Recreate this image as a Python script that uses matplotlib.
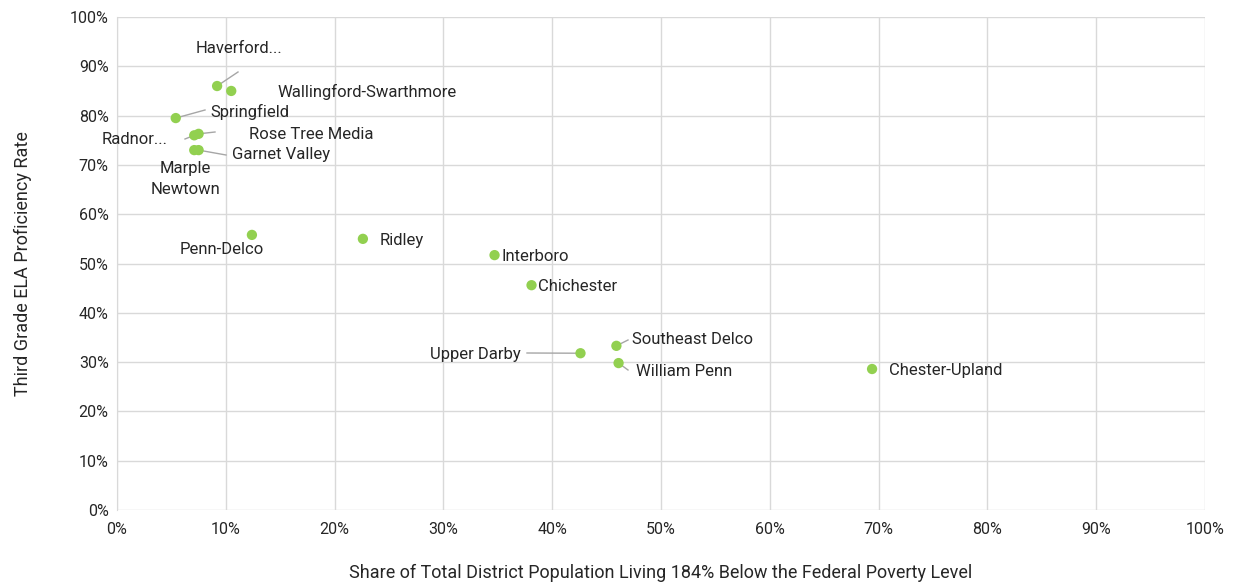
import matplotlib
matplotlib.use("Agg")
import matplotlib.pyplot as plt
from matplotlib.ticker import PercentFormatter

plt.rcParams['font.family'] = ['Roboto', 'DejaVu Sans']

districts = ["Haverford...", "Wallingford-Swarthmore", "Springfield", "Radnor...", "Rose Tree Media",
             "Garnet Valley", "Marple\nNewtown", "Penn-Delco", "Ridley", "Interboro", "Chichester",
             "Upper Darby", "Southeast Delco", "William Penn", "Chester-Upland"]
poverty = [9.2, 10.5, 5.4, 7.1, 7.5, 7.5, 7.1, 12.4, 22.6, 34.7, 38.1, 42.6, 45.9, 46.1, 69.4]
ela = [86.0, 85.0, 79.5, 76.0, 76.3, 73.0, 73.0, 55.8, 55.0, 51.7, 45.6, 31.8, 33.3, 29.8, 28.6]

# label anchor (pixel), alignment, leader flag, leader end (pixel)
label_pos = {
    "Haverford...": ((239, 48), "center", True, (238, 72)),
    "Wallingford-Swarthmore": ((277, 92), "left", False, None),
    "Springfield": ((210, 112), "left", True, (205, 110)),
    "Radnor...": ((168, 140), "right", True, (185, 139)),
    "Rose Tree Media": ((249, 134), "left", True, (215, 132)),
    "Garnet Valley": ((232, 155), "left", True, (226, 155)),
    "Marple\nNewtown": ((185, 179), "center", False, None),
    "Penn-Delco": ((222, 250), "center", False, None),
    "Ridley": ((380, 240), "left", False, None),
    "Interboro": ((501, 256), "left", False, None),
    "Chichester": ((538, 286), "left", False, None),
    "Upper Darby": ((521, 354), "right", True, (527, 353)),
    "Southeast Delco": ((632, 340), "left", True, (628, 340)),
    "William Penn": ((636, 371), "left", True, (628, 370)),
    "Chester-Upland": ((889, 370), "left", False, None),
}

W, H = 1238, 583
fig = plt.figure(figsize=(W / 100, H / 100), dpi=100)
ax = fig.add_axes([117 / W, 1 - 510 / H, (1205 - 117) / W, (510 - 17) / H])

ax.scatter(poverty, ela, s=55, color="#92D050", zorder=3, edgecolors="none")
ax.set_xlim(0, 100)
ax.set_ylim(0, 100)
ax.set_xticks(range(0, 101, 10))
ax.set_yticks(range(0, 101, 10))
ax.xaxis.set_major_formatter(PercentFormatter(decimals=0))
ax.yaxis.set_major_formatter(PercentFormatter(decimals=0))
ax.grid(True, color="#D9D9D9", linewidth=1)
ax.set_axisbelow(True)
for s in ["top", "right", "bottom"]:
    ax.spines[s].set_visible(False)
ax.spines["left"].set_color("#D9D9D9")
ax.tick_params(length=0, labelsize=11.5, colors="#262626", pad=6)
ax.tick_params(axis="x", pad=9)
ax.set_xlabel("Share of Total District Population Living 184% Below the Federal Poverty Level",
              fontsize=13, color="#262626", labelpad=19)
ax.set_ylabel("Third Grade ELA Proficiency Rate", fontsize=13, color="#262626", labelpad=27)


def px2data(px, py):
    return ((px - 117) / (1205 - 117) * 100, (510 - py) / (510 - 17) * 100)


for name, x, y in zip(districts, poverty, ela):
    (lx, ly), ha, leader, lend = label_pos[name]
    tx, ty = px2data(lx, ly)
    ax.text(tx, ty, name, ha=ha, va="center", fontsize=12, color="#262626",
            linespacing=1.5, zorder=4)
    if leader:
        ex, ey = px2data(*lend)
        ax.plot([x, ex], [y, ey], color="#A6A6A6", linewidth=1, zorder=2)

fig.savefig("out.png", dpi=100)
